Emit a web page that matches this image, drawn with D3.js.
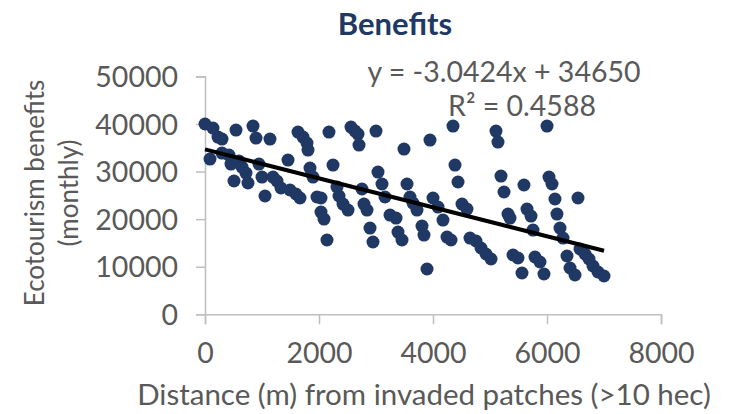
<!DOCTYPE html>
<html>
<head>
<meta charset="utf-8">
<script src="https://cdn.jsdelivr.net/npm/d3@7"></script>
<style>
  html, body { margin: 0; padding: 0; background: #fff; }
  svg { display: block; }
  text { font-family: Lato, "Open Sans", sans-serif; }
</style>
</head>
<body>
<svg id="chart" width="734" height="414"></svg>
<script>
// ---- data ----
const distance = [0,140,228,298,544,842,895,1140,1632,1719,1789,1807,2175,2561,2632,2684,2702,3000,3491,3947,4351,5105,5140,6000,
  88,298,421,456,596,649,719,509,754,947,1000,1053,1193,1263,1333,1491,1596,1667,1456,1842,1895,1965,2035,2035,2088,2140,
  2246,2316,2351,2421,2509,2754,2789,2842,2895,2947,3035,3105,3158,3246,3351,3386,3456,3544,3596,3649,3719,3807,3842,3895,
  4000,4088,4175,4246,4316,4386,4439,4509,4596,4649,4754,4842,4930,5018,5193,5246,5316,5351,5404,5491,5561,5596,5649,5719,
  5754,5789,5877,5947,6035,6088,6140,6175,6228,6281,6351,6404,6491,6544,6579,6667,6737,6807,6895,7000];
const benefits = [40000,39140,37250,36830,38720,39560,37040,36830,38300,37250,35990,34520,38300,39350,38510,37880,35570,38510,34730,36620,39560,38510,36200,39560,
  32630,33890,33470,31580,32200,30950,29690,28010,27590,31580,28850,24860,28850,28010,26540,26120,25280,24440,32420,30740,28850,24650,24440,21490,20020,15610,
  31370,26750,24860,23170,21910,26330,23170,21910,18130,15190,29900,27380,24650,20860,20230,17290,15610,27380,24650,23380,21910,18550,16660,9520,
  24440,22540,19810,16240,15610,31370,27800,23170,22120,16030,15400,13930,12670,11620,29060,25700,21070,20230,12460,11830,8680,27170,22120,20650,
  17710,12040,10990,8470,28850,27380,24230,21070,18130,16030,12250,9730,8260,24440,13720,12670,11620,10150,8890,8050];
const xTicks = [0,2000,4000,6000,8000];
const yTicks = [0,10000,20000,30000,40000,50000];
const slope = -3.0424, intercept = 34650, rSquared = "0.4588";
const titleText = "Benefits";
const xTitle = "Distance (m) from invaded patches (>10 hec)";
const yTitleLines = ["Ecotourism benefits", "(monthly)"];

const svg = d3.select("#chart");
const x = d3.scaleLinear().domain([0, 8000]).range([205, 661]);
const y = d3.scaleLinear().domain([0, 50000]).range([314.3, 76.4]);
const axisColor = "#bfbfbf", labelColor = "#595959";

// y axis
const yAxis = svg.append("g").attr("transform", `translate(${x(0)},0)`)
  .call(d3.axisLeft(y).tickValues(yTicks).tickSize(9).tickPadding(18).tickFormat(d3.format("d")));
// x axis
const xAxis = svg.append("g").attr("transform", `translate(0,${y(0)})`)
  .call(d3.axisBottom(x).tickValues(xTicks).tickSize(10).tickPadding(18).tickFormat(d3.format("d")));
[yAxis, xAxis].forEach(g => {
  g.select(".domain").attr("stroke", axisColor).attr("stroke-width", 1.5);
  g.selectAll(".tick line").attr("stroke", axisColor).attr("stroke-width", 1.5);
  g.selectAll(".tick text").attr("fill", labelColor).style("font-size", "28.5px").style("font-family", "Lato");
});
yAxis.selectAll(".tick text").attr("dy", "0.36em");

// points
svg.append("g").selectAll("circle").data(distance.map((d, i) => [d, benefits[i]]))
  .join("circle")
  .attr("cx", d => x(d[0])).attr("cy", d => y(d[1])).attr("r", 6.5)
  .attr("fill", "#203864");

// trend line
const xMax = d3.max(distance);
svg.append("line")
  .attr("x1", x(0)).attr("y1", y(intercept))
  .attr("x2", x(xMax)).attr("y2", y(intercept + slope * xMax))
  .attr("stroke", "#000").attr("stroke-width", 4).attr("stroke-linecap", "butt");

// equation
svg.append("text").attr("x", 504).attr("y", 82).attr("text-anchor", "middle")
  .attr("fill", labelColor).style("font-size", "28.5px")
  .text(`y = ${slope}x + ${intercept}`);
svg.append("text").attr("x", 522).attr("y", 116).attr("text-anchor", "middle")
  .attr("fill", labelColor).style("font-size", "28.5px")
  .text(`R² = ${rSquared}`);

// title
svg.append("text").attr("x", 395).attr("y", 35).attr("text-anchor", "middle")
  .attr("fill", "#203864").style("font-size", "31px").style("font-weight", "bold")
  .text(titleText);

// x title
svg.append("text").attr("x", 424).attr("y", 405).attr("text-anchor", "middle")
  .attr("fill", labelColor).style("font-size", "29.5px")
  .text(xTitle);

// y title
yTitleLines.forEach((t, i) => {
  svg.append("text").attr("transform", `translate(${44 + i * 34},193) rotate(-90)`)
    .attr("text-anchor", "middle").attr("fill", labelColor).style("font-size", "26px")
    .text(t);
});
</script>
</body>
</html>
